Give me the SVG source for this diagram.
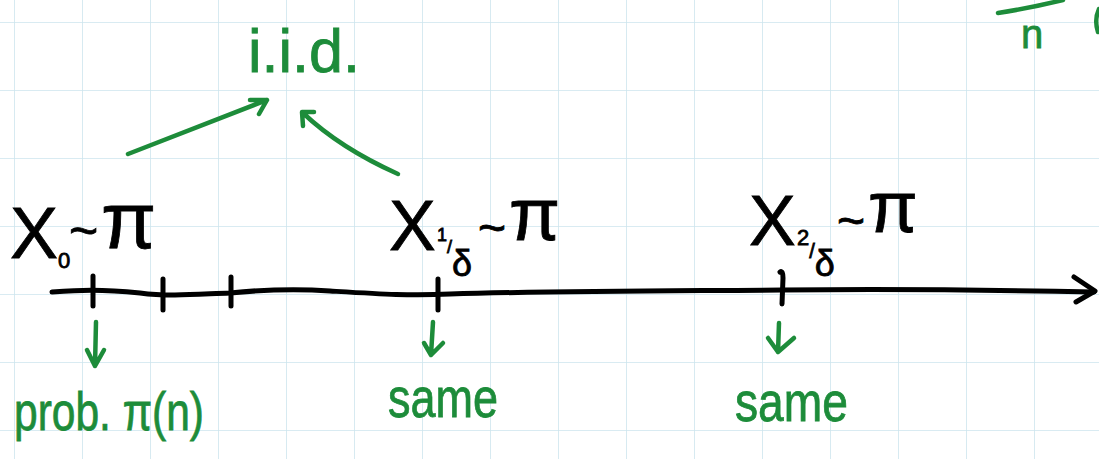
<svg xmlns="http://www.w3.org/2000/svg" width="1099" height="459" viewBox="0 0 1099 459">
<defs>
<pattern id="grid" x="14" y="22" width="68" height="68" patternUnits="userSpaceOnUse">
<path d="M0,0 V68 M0,0 H68" fill="none" stroke="#cde5ee" stroke-width="1.6"/>
</pattern>
</defs>
<style>
.ink{fill:none;stroke:#000;stroke-width:5;stroke-linecap:round;stroke-linejoin:round}
.gink{fill:none;stroke:#1d8c3a;stroke-width:4.5;stroke-linecap:round;stroke-linejoin:round}
.bt{font-family:"Liberation Sans","DejaVu Sans",sans-serif;fill:#000;stroke:#000;stroke-width:0.8}
.gt{font-family:"Liberation Sans","DejaVu Sans",sans-serif;fill:#1d8c3a;stroke:#1d8c3a;stroke-width:0.8}
</style>
<rect width="1099" height="459" fill="#fff"/>
<rect width="1099" height="459" fill="url(#grid)"/>

<g id="connectors">
<path id="axis" class="ink" d="M52,292 C80,290 100,289 140,293 C170,297 200,294 230,293 C260,290 290,288 330,291 C380,294 410,296 450,294 C550,291 650,291 782,290 C900,289 1000,290 1094,292"/>
<path class="ink" d="M1074,277 L1095,291 L1076,302"/>
<path class="ink" d="M93,276 V306 M163,279 V310 M231,277 V306 M438,279 V310 M780,272 Q783,270 783,278 L782,304"/>
<path class="gink" d="M128,154 L267,100 M250,100 L267,100 L259,114"/>
<path class="gink" d="M398,174 Q340,148 303,113 M303,126 L302,112 L314,112"/>
<path class="gink" d="M96,322 L95,366 M87,350 L95,366 L104,350"/>
<path class="gink" d="M433,322 L431,355 M424,343 L431,355 L443,343"/>
<path class="gink" d="M779,323 L778,352 M768,338 L778,352 L794,338"/>
</g>

<g id="iid"><text class="gt" x="248" y="72" font-size="62" textLength="112" lengthAdjust="spacingAndGlyphs">i.i.d.</text></g>

<g id="x0">
<text class="bt" x="10" y="258" font-size="72">X</text>
<text class="bt" x="58" y="268" font-size="22">0</text>
<text class="bt" x="69" y="248" font-size="50">~</text>
<text class="bt" x="101" y="248" font-size="80">π</text>
</g>

<g id="x1">
<text class="bt" x="389" y="250" font-size="70">X</text>
<text class="bt" x="437" y="241" font-size="18">1<tspan dy="12">/</tspan><tspan dy="23" font-size="36">δ</tspan></text>
<text class="bt" x="478" y="244" font-size="48">~</text>
<text class="bt" x="509" y="240" font-size="74">π</text>
</g>

<g id="x2">
<text class="bt" x="749" y="245" font-size="70">X</text>
<text class="bt" x="797" y="245" font-size="22">2<tspan dy="13" font-size="20">/</tspan><tspan dy="18" font-size="36">δ</tspan></text>
<text class="bt" x="837" y="237" font-size="48">~</text>
<text class="bt" x="868" y="232" font-size="72">π</text>
</g>

<g id="prob"><text class="gt" x="14" y="430" font-size="54" textLength="190" lengthAdjust="spacingAndGlyphs">prob. π(n)</text></g>
<g id="same1"><text class="gt" x="388" y="417" font-size="56" textLength="110" lengthAdjust="spacingAndGlyphs">same</text></g>
<g id="same2"><text class="gt" x="735" y="421" font-size="56" textLength="113" lengthAdjust="spacingAndGlyphs">same</text></g>

<g id="corner">
<path class="gink" d="M998,13 Q1030,8 1063,0"/>
<text class="gt" x="1021" y="48" font-size="40">n</text>
<path class="gink" d="M1099,9 Q1094,20 1098,32"/>
</g>
</svg>
